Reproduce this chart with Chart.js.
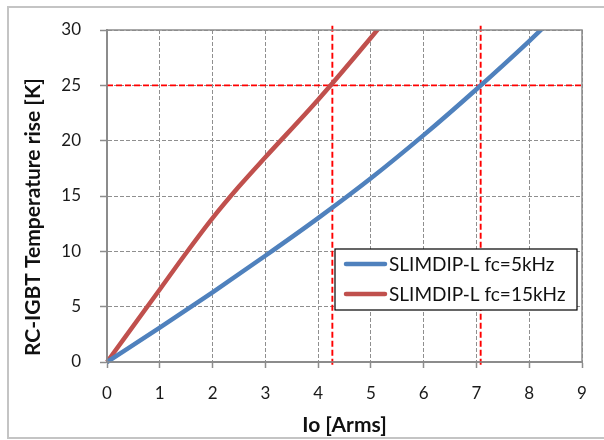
<!DOCTYPE html>
<html>
<head>
<meta charset="utf-8">
<script src="https://cdn.jsdelivr.net/npm/chart.js@4/dist/chart.umd.min.js"></script>
<style>
  html, body { margin: 0; padding: 0; background: #fff; }
  #wrap { position: relative; width: 604px; height: 440px; overflow: hidden; }
  #frame { position: absolute; left: 7px; top: 6px; width: 620px; height: 433px;
           border: 2px solid #c4c4c4; box-sizing: border-box; }
  canvas { position: absolute; left: 0; top: 0; }
</style>
</head>
<body>
<div id="wrap">
  <div id="frame"></div>
  <canvas id="chart" width="604" height="440"></canvas>
</div>
<script>
// Io [Arms] vs RC-IGBT temperature rise [K]
let io5k = [0, 1, 2, 3, 4, 5, 6, 7, 8, 8.5];
let rise5k = [0, 3.1, 6.3, 9.6, 13.0, 16.6, 20.5, 24.65, 29.0, 31.3];

let io15k = [0, 1, 1.5, 2, 2.5, 3, 4, 5, 5.5];
let rise15k = [0, 6.55, 9.85, 13.0, 15.85, 18.5, 23.7, 29.3, 32.2];

let labels = ['SLIMDIP-L fc=5kHz', 'SLIMDIP-L fc=15kHz'];

// red dashed marker lines
let markY = 25;
let markX = [4.27, 7.08];
let markSpan = [-0.25, 30.6];

let xTicks = [0, 9];
let yTicks = [0, 30];

let xTitle = 'Io [Arms]';
let yTitle = 'RC-IGBT Temperature rise [K]';

let fontFam = "Lato, 'Open Sans', sans-serif";

function pts(xs, ys) {
    return xs.map(function (x, i) { return {x: x, y: ys[i]}; });
}

let markSets = [{
    data: [{x: xTicks[0], y: markY}, {x: xTicks[1], y: markY}]
}].concat(markX.map(function (x) {
    return {data: [{x: x, y: markSpan[0]}, {x: x, y: markSpan[1]}]};
})).map(function (d) {
    d.label = '';
    d.showLine = true;
    d.borderColor = '#ff0000';
    d.borderWidth = 1.9;
    d.borderDash = [6, 3];
    d.pointRadius = 0;
    d.clip = false;
    return d;
});

let frameAndLegend = {
    id: 'frameAndLegend',
    afterDatasetsDraw(chart) {
        let ctx = chart.ctx;
        let a = chart.chartArea;
        ctx.save();
        ctx.strokeStyle = '#8c8c8c';
        ctx.lineWidth = 1.5;
        ctx.strokeRect(a.left, a.top, a.right - a.left, a.bottom - a.top);

        // legend box
        let lx = a.left + 228, ly = a.top + 219, lw = 242, lh = 61;
        ctx.fillStyle = '#fff';
        ctx.fillRect(lx, ly, lw, lh);
        ctx.strokeStyle = '#000';
        ctx.lineWidth = 1.2;
        ctx.strokeRect(lx, ly, lw, lh);
        ctx.font = "19px " + fontFam;
        ctx.textBaseline = 'middle';
        ctx.textAlign = 'left';
        for (let i = 0; i < 2; i++) {
            let ds = chart.data.datasets[i];
            let cy = ly + 15 + i * 30;
            ctx.strokeStyle = ds.borderColor;
            ctx.lineWidth = 4.5;
            ctx.lineCap = 'round';
            ctx.beginPath();
            ctx.moveTo(lx + 11, cy);
            ctx.lineTo(lx + 50, cy);
            ctx.stroke();
            ctx.fillStyle = '#111';
            ctx.fillText(ds.label, lx + 54, cy + 1);
        }

        // y axis title (sits a little below the axis middle)
        ctx.translate(33, a.top + 187);
        ctx.rotate(-Math.PI / 2);
        ctx.font = "bold 21px " + fontFam;
        ctx.textAlign = 'center';
        ctx.fillStyle = '#111';
        ctx.fillText(yTitle, 0, 0);
        ctx.restore();
    }
};

let gridColor = '#8f8f8f';

new Chart(document.getElementById('chart').getContext('2d'), {
    type: 'scatter',
    data: {
        datasets: [
            {
                label: labels[0],
                data: pts(io5k, rise5k),
                showLine: true,
                borderColor: '#4f81bd',
                borderWidth: 4.5,
                pointRadius: 0,
                cubicInterpolationMode: 'monotone',
                clip: {left: 5, bottom: 5, top: 0, right: 0}
            },
            {
                label: labels[1],
                data: pts(io15k, rise15k),
                showLine: true,
                borderColor: '#c0504d',
                borderWidth: 4.5,
                pointRadius: 0,
                cubicInterpolationMode: 'monotone',
                clip: {left: 5, bottom: 5, top: 0, right: 0}
            }
        ].concat(markSets)
    },
    options: {
        responsive: false,
        animation: false,
        layout: {padding: {left: 7, right: 22, top: 30, bottom: 0}},
        plugins: {
            legend: {display: false},
            tooltip: {enabled: false}
        },
        scales: {
            x: {
                type: 'linear',
                min: xTicks[0],
                max: xTicks[1],
                afterFit(scale) { scale.height = 78; },
                ticks: {
                    stepSize: 1,
                    color: '#1a1a1a',
                    padding: 15,
                    font: {family: fontFam, size: 17}
                },
                grid: {
                    color: gridColor,
                    lineWidth: 1,
                    tickLength: 6,
                    tickColor: '#8c8c8c',
                    tickWidth: 1.5
                },
                border: {color: '#8c8c8c', width: 2, dash: [4, 2]},
                title: {
                    display: true,
                    text: xTitle,
                    color: '#111',
                    font: {family: fontFam, size: 21, weight: 'bold'},
                    padding: {top: 0, bottom: 2}
                }
            },
            y: {
                type: 'linear',
                min: yTicks[0],
                max: yTicks[1],
                afterFit(scale) { scale.width = 100; },
                ticks: {
                    stepSize: 5,
                    color: '#1a1a1a',
                    padding: 19,
                    font: {family: fontFam, size: 17}
                },
                grid: {
                    color: gridColor,
                    lineWidth: 1,
                    tickLength: 7,
                    tickColor: '#8c8c8c',
                    tickWidth: 1.5
                },
                border: {color: '#8c8c8c', width: 2, dash: [4, 2]},
                title: {display: false}
            }
        }
    },
    plugins: [frameAndLegend]
});
</script>
</body>
</html>
